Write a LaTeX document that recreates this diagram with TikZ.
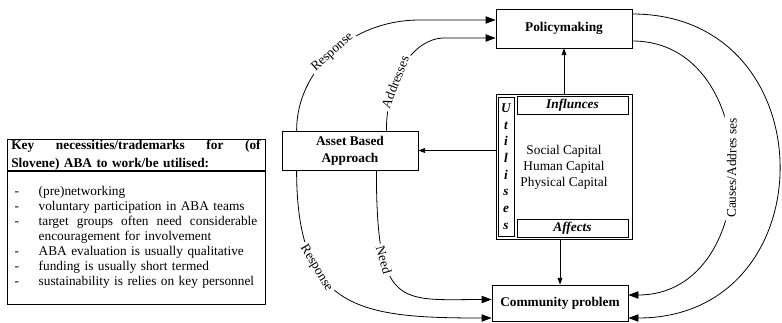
\documentclass[tikz,border=0pt]{standalone}
\usepackage{fontspec}
\setmainfont{Liberation Serif}
\usepackage{tikz}
\usetikzlibrary{positioning,calc,arrows.meta}
\newcommand{\keyitem}[1]{\makebox[18pt][l]{-}#1}

\begin{document}
\begin{tikzpicture}[x=0.75pt,y=-0.75pt,line width=0.6pt,
    box/.style={rectangle,draw,inner sep=0pt,align=center},
    bigtip/.style={-{Triangle[length=7.5pt,width=5.5pt]}},
    smalltip/.style={-{Triangle[length=5pt,width=3.6pt]}},
    curvelabel/.style={sloped,fill=white,inner sep=2pt,font=\fontsize{10}{12}\selectfont}]
    \useasboundingbox (0,0) rectangle (782,322);

    \node[box,minimum width=193.5pt,minimum height=22.5pt,text width=187pt,align=left,
        font=\bfseries\fontsize{10}{13.5}\selectfont] (keyhead) at (136,155)
        {\hbox to 187pt{Key\hfill necessities/trademarks\hfill for\hfill (of}\\Slovene) ABA to work/be utilised:};
    \node[box,minimum width=193.5pt,minimum height=99.75pt,text width=182pt,align=left,
        font=\fontsize{10}{11.25}\selectfont,below=0pt of keyhead] (keybody)
        {\keyitem{(pre)networking}\\
         \keyitem{voluntary participation in ABA teams}\\
         \keyitem{\hbox to 164pt{target\hfill groups\hfill often\hfill need\hfill considerable}}\\
         \hspace*{18pt}encouragement for involvement\\
         \keyitem{ABA evaluation is usually qualitative}\\
         \keyitem{funding is usually short termed}\\
         \keyitem{sustainability is relies on key personnel}};

    \node[box,minimum width=102pt,minimum height=29.25pt,font=\bfseries] (pol) at (564,28.5) {Policymaking};
    \node[box,minimum width=102pt,minimum height=108.75pt] (cen) at (564,166.5) {};
    \node[box,minimum width=83.25pt,minimum height=13.5pt,font=\bfseries\itshape] (inf) at (572.5,105) {Influnces};
    \node[box,minimum width=83.25pt,minimum height=13.5pt,font=\bfseries\itshape] (aff) at (572.5,228.5) {Affects};
    \node[box,minimum width=12pt,minimum height=104.25pt,
        font=\bfseries\itshape\fontsize{10}{12.5}\selectfont] (utl) at (506,166.5) {U\\t\\i\\l\\i\\s\\e\\s};
    \node[align=center,font=\fontsize{10}{12}\selectfont] (caps) at (564,167)
        {Social Capital\\Human Capital\\Physical Capital};
    \node[box,minimum width=102pt,minimum height=29.25pt,
        font=\bfseries\fontsize{10}{12.75}\selectfont] (aba) at (350,150.5) {Asset Based\\Approach};
    \node[box,minimum width=102pt,minimum height=27pt,font=\bfseries] (com) at (560,303) {Community problem};

    \draw[smalltip] (cen.north) -- (pol.south);
    \draw[smalltip] (cen.west |- aba.east) -- (aba.east);
    \draw[smalltip] (cen.south -| com.north) -- (com.north);

    \draw[bigtip] ($(aba.north west)+(15,0)$) .. controls +(0,-61) and +(-68,0) ..
        node[curvelabel,pos=0.5] {Response} ($(pol.west)+(-76,-8.5)$) -- ($(pol.west)+(0,-8.5)$);
    \draw[bigtip] ($(aba.north east)+(-32,0)$) .. controls +(0,-51) and +(-32,0) ..
        node[curvelabel,pos=0.35] {Addresses} ($(pol.west)+(-51,9.5)$) -- ($(pol.west)+(0,9.5)$);
    \draw[bigtip] ($(aba.south west)+(15,0)$) .. controls +(0,140) and +(-132,0) ..
        node[curvelabel,pos=0.32] {Response} ($(com.west)+(0,15)$);
    \draw[bigtip] ($(aba.south east)+(-42,0)$) .. controls +(0,140) and +(-92,0) ..
        node[curvelabel,pos=0.3] {Need} ($(com.west)+(0,-3.5)$);
    \draw[bigtip] ($(pol.east)+(0,12.5)$) .. controls +(133,0) and +(137,0) ..
        node[curvelabel,pos=0.5] {Causes/Addres ses} ($(com.east)+(0,-8)$);
    \draw[bigtip] ($(pol.east)+(0,-14.5)$) .. controls +(196,0) and +(200,0) .. ($(com.east)+(0,15)$);
\end{tikzpicture}
\end{document}
